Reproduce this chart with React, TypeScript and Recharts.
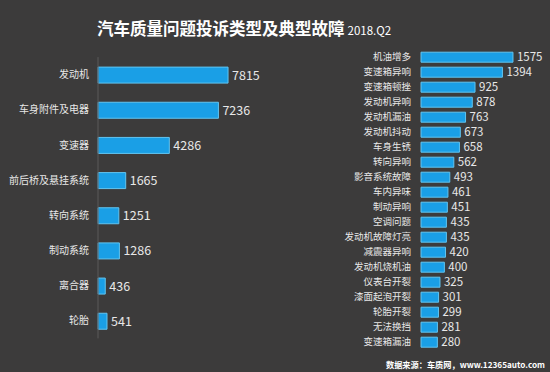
import React from 'react';
import { BarChart, Bar, XAxis, YAxis, LabelList } from 'recharts';

const typeCategories = ['发动机', '车身附件及电器', '变速器', '前后桥及悬挂系统', '转向系统', '制动系统', '离合器', '轮胎'];
const typeValues = [7815, 7236, 4286, 1665, 1251, 1286, 436, 541];

const faultCategories = [
  '机油增多', '变速箱异响', '变速箱顿挫', '发动机异响', '发动机漏油', '发动机抖动', '车身生锈',
  '转向异响', '影音系统故障', '车内异味', '制动异响', '空调问题', '发动机故障灯亮', '减震器异响',
  '发动机烧机油', '仪表台开裂', '漆面起泡开裂', '轮胎开裂', '无法换挡', '变速箱漏油',
];
const faultValues = [1575, 1394, 925, 878, 763, 673, 658, 562, 493, 461, 451, 435, 435, 420, 400, 325, 301, 299, 281, 280];

const titleText = '汽车质量问题投诉类型及典型故障';
const periodText = '2018.Q2';
const sourceText = '数据来源：车质网，www.12365auto.com';

const typeData = typeCategories.map((name, i) => ({ name, value: typeValues[i] }));
const faultData = faultCategories.map((name, i) => ({ name, value: faultValues[i] }));

const FONT = '"Noto Sans CJK SC", "Noto Sans", sans-serif';
const BG = '#3c3b3b';
const BAR_FILL = '#1a9fe6';
const BAR_STROKE = '#62c4f0';
const TEXT = '#e8e8e8';

export default function App() {
  return (
    <div
      style={{
        position: 'absolute',
        left: 0,
        top: 0,
        width: 550,
        height: 372,
        background: BG,
        fontFamily: FONT,
        overflow: 'hidden',
      }}
    >
      <div
        style={{
          position: 'absolute',
          left: 97,
          top: 19,
          whiteSpace: 'nowrap',
          color: '#ffffff',
          lineHeight: '18px',
        }}
      >
        <span style={{ fontSize: 16.5, fontWeight: 700 }}>{titleText}</span>
        <span style={{ fontSize: 11.5, marginLeft: 3 }}>{periodText}</span>
      </div>

      <div style={{ position: 'absolute', left: 0, top: 0 }}>
        <BarChart
          width={280}
          height={372}
          data={typeData}
          layout="vertical"
          margin={{ top: 57.1, right: 15.6, bottom: 33.6, left: 0 }}
        >
          <XAxis type="number" domain={[0, 10000]} hide />
          <YAxis
            type="category"
            dataKey="name"
            width={98}
            tickLine={false}
            tickSize={0}
            tickMargin={9}
            axisLine={{ stroke: '#5a5a5a' }}
            tick={{ fill: TEXT, fontSize: 10, fontFamily: FONT }}
            interval={0}
          />
          <Bar
            dataKey="value"
            fill={BAR_FILL}
            stroke={BAR_STROKE}
            strokeWidth={1}
            barSize={16}
            isAnimationActive={false}
          >
            <LabelList
              dataKey="value"
              position="right"
              offset={4}
              fill={TEXT}
              fontSize={12.5}
              fontFamily={FONT}
            />
          </Bar>
        </BarChart>
      </div>

      <div style={{ position: 'absolute', left: 280, top: 0 }}>
        <BarChart
          width={270}
          height={372}
          data={faultData}
          layout="vertical"
          margin={{ top: 49.2, right: 12.2, bottom: 22.8, left: 0 }}
        >
          <XAxis type="number" domain={[0, 2000]} hide />
          <YAxis
            type="category"
            dataKey="name"
            width={141}
            tickLine={false}
            tickSize={0}
            tickMargin={10}
            axisLine={false}
            tick={{ fill: TEXT, fontSize: 9.5, fontFamily: FONT }}
            interval={0}
          />
          <Bar
            dataKey="value"
            fill={BAR_FILL}
            stroke={BAR_STROKE}
            strokeWidth={1}
            barSize={10}
            isAnimationActive={false}
          >
            <LabelList
              dataKey="value"
              position="right"
              offset={4}
              fill={TEXT}
              fontSize={11.5}
              fontFamily={FONT}
            />
          </Bar>
        </BarChart>
      </div>

      <div
        style={{
          position: 'absolute',
          right: 5,
          top: 358,
          fontSize: 8.2,
          fontWeight: 700,
          color: '#ffffff',
          whiteSpace: 'nowrap',
          lineHeight: '12px',
        }}
      >
        {sourceText}
      </div>
    </div>
  );
}
